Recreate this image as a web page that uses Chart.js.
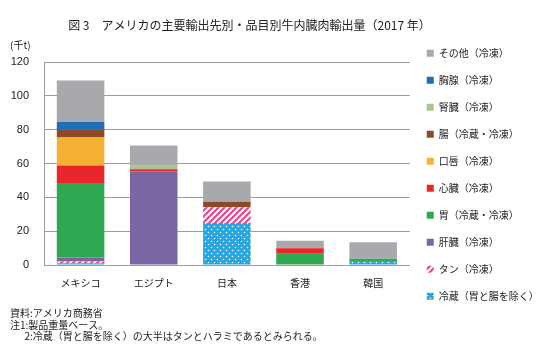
<!DOCTYPE html>
<html lang="ja">
<head>
<meta charset="utf-8">
<script src="https://cdn.jsdelivr.net/npm/chart.js@4.4.1/dist/chart.umd.min.js"></script>
<style>
  html, body { margin: 0; padding: 0; background: #ffffff; }
  #wrap { position: relative; width: 557px; height: 356px; }
  #unit { position: absolute; left: 10px; top: 38px; font: 10px 'Noto Sans CJK JP', sans-serif; color: #222; line-height: 14px; }
</style>
</head>
<body>
<div id="wrap">
  <canvas id="c" width="557" height="356"></canvas>
  <div id="unit">(千t)</div>
</div>
<script>
const categories = ['メキシコ', 'エジプト', '日本', '香港', '韓国'];
const chilled   = [1.0, 0, 24.8, 0, 2.4];
const tongue    = [1.0, 0, 9.3, 0, 0];
const liver     = [2.5, 55.2, 0, 0, 0];
const stomach   = [44.0, 0, 0, 6.7, 1.3];
const heart     = [10.3, 1.4, 0, 3.2, 0];
const lips      = [16.6, 0, 0, 0, 0];
const intestine = [4.9, 0, 3.3, 0, 0];
const kidney    = [0, 2.0, 0, 0, 0];
const thymus    = [4.3, 0, 0, 0, 0];
const other     = [24.5, 12.1, 11.9, 4.5, 9.7];
const seriesNames = ['冷蔵（胃と腸を除く）', 'タン（冷凍）', '肝臓（冷凍）', '胃（冷蔵・冷凍）', '心臓（冷凍）', '口唇（冷凍）', '腸（冷蔵・冷凍）', '腎臓（冷凍）', '胸腺（冷凍）', 'その他（冷凍）'];
const yTicks = [0, 20, 40, 60, 80, 100, 120];
const titleText = '図 3　アメリカの主要輸出先別・品目別牛内臓肉輸出量（2017 年）\u3000\u3000\u3000\u3000\u3000';
const notes = ['資料:アメリカ商務省', '注1:製品重量ベース。', '\u3000  2:冷蔵（胃と腸を除く）の大半はタンとハラミであるとみられる。'];

function dotPattern() {
  const t = document.createElement('canvas'); t.width = 6; t.height = 6;
  const g = t.getContext('2d');
  g.fillStyle = '#29a7df'; g.fillRect(0, 0, 6, 6);
  g.fillStyle = '#ffffff';
  g.beginPath(); g.arc(1.5, 1.5, 0.75, 0, Math.PI * 2); g.fill();
  g.beginPath(); g.arc(4.5, 4.5, 0.75, 0, Math.PI * 2); g.fill();
  return g.createPattern(t, 'repeat');
}
function stripePattern() {
  const t = document.createElement('canvas'); t.width = 6; t.height = 6;
  const g = t.getContext('2d');
  g.fillStyle = '#ffffff'; g.fillRect(0, 0, 6, 6);
  g.strokeStyle = '#e8478a'; g.lineWidth = 2.2;
  g.beginPath();
  g.moveTo(-1, 7); g.lineTo(7, -1);
  g.moveTo(-4, 4); g.lineTo(4, -4);
  g.moveTo(2, 10); g.lineTo(10, 2);
  g.stroke();
  return g.createPattern(t, 'repeat');
}

const values = [chilled, tongue, liver, stomach, heart, lips, intestine, kidney, thymus, other];
const colors = [dotPattern(), stripePattern(), '#7a66a4', '#30a852', '#e8262b', '#f5b133', '#8c4a2a', '#a9c590', '#1f6db4', '#a8a9ad'];

const datasets = values.map((v, i) => ({
  label: seriesNames[i],
  data: v,
  backgroundColor: colors[i],
  borderWidth: 0,
  barPercentage: 0.65,
  categoryPercentage: 1.0,
  stack: 's'
}));

Chart.defaults.font.family = "'Noto Sans CJK JP', 'Noto Sans', sans-serif";
Chart.defaults.color = '#222';

new Chart(document.getElementById('c'), {
  type: 'bar',
  data: { labels: categories, datasets },
  options: {
    responsive: false,
    animation: false,
    layout: { padding: { left: 10, right: 14, top: 0, bottom: 6.4 } },
    scales: {
      x: {
        stacked: true,
        grid: { display: false, drawTicks: false },
        border: { display: true, color: '#9d9d9d' },
        ticks: { font: { size: 10 }, padding: 12, color: '#222' },
        afterFit: (s) => { s.height = 24; }
      },
      y: {
        stacked: true,
        min: 0, max: 120,
        afterBuildTicks: (s) => { s.ticks = yTicks.map(v => ({ value: v })); },
        grid: { color: '#9d9d9d', lineWidth: 1, drawTicks: false },
        border: { display: true, color: '#9d9d9d' },
        ticks: { font: { size: 11, family: "'Liberation Sans', Arial, sans-serif" }, padding: 15, color: '#222' },
        afterFit: (s) => { s.width = 34; }
      }
    },
    plugins: {
      title: {
        display: true,
        text: titleText,
        font: { size: 12, weight: 'normal' },
        color: '#222',
        padding: { top: 17.8, bottom: 29.8 }
      },
      subtitle: {
        display: true,
        position: 'bottom',
        align: 'start',
        text: notes,
        font: { size: 10, lineHeight: 1.15 },
        color: '#222',
        padding: { top: 18.75, bottom: 7.35 }
      },
      legend: {
        position: 'right',
        align: 'center',
        reverse: true,
        labels: {
          boxWidth: 7,
          boxHeight: 7,
          padding: 17,
          font: { size: 10 },
          color: '#222'
        }
      },
      tooltip: { enabled: false }
    }
  }
});
</script>
</body>
</html>
